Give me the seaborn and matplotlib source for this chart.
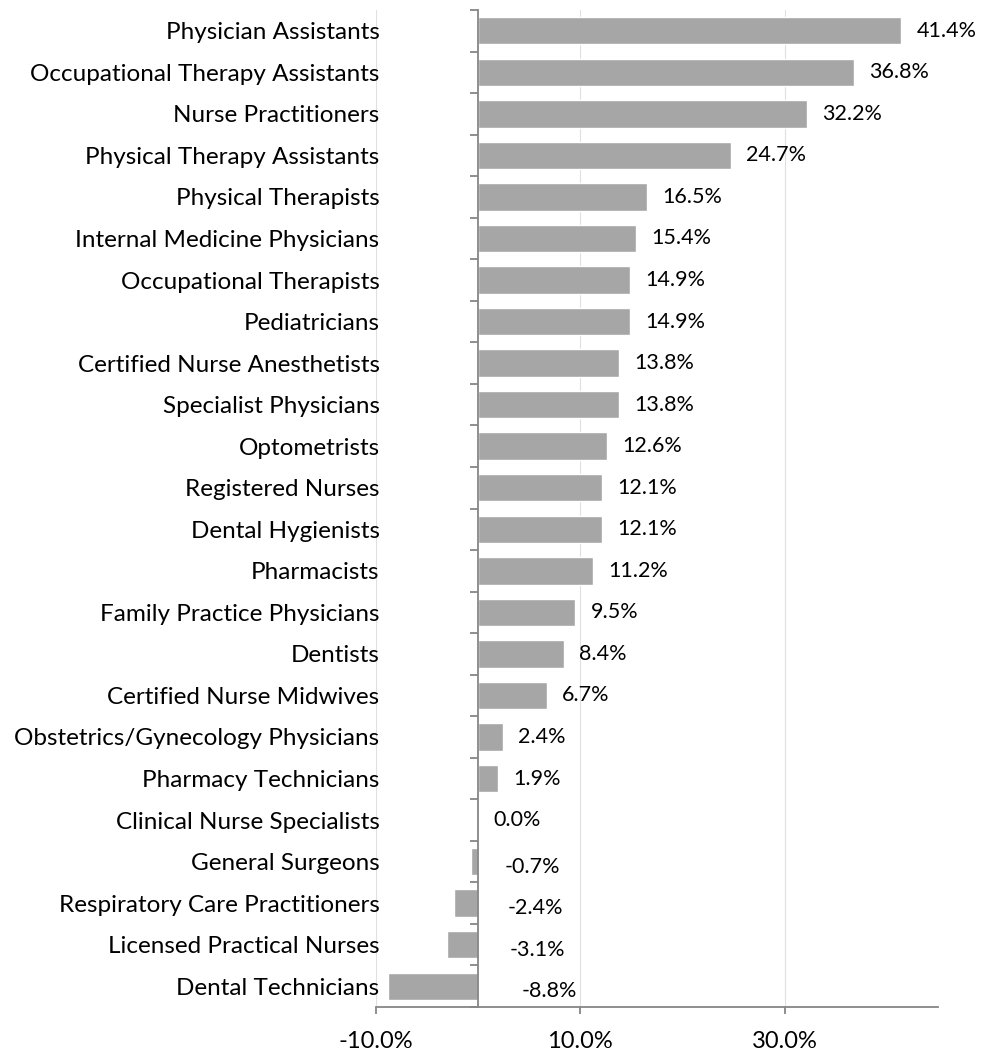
import seaborn as sns
import matplotlib.pyplot as plt
import pandas as pd
import numpy as np

# datos
profesiones = [
    'Physician Assistants', 'Occupational Therapy Assistants', 'Nurse Practitioners',
    'Physical Therapy Assistants', 'Physical Therapists', 'Internal Medicine Physicians',
    'Occupational Therapists', 'Pediatricians', 'Certified Nurse Anesthetists',
    'Specialist Physicians', 'Optometrists', 'Registered Nurses', 'Dental Hygienists',
    'Pharmacists', 'Family Practice Physicians', 'Dentists', 'Certified Nurse Midwives',
    'Obstetrics/Gynecology Physicians', 'Pharmacy Technicians', 'Clinical Nurse Specialists',
    'General Surgeons', 'Respiratory Care Practitioners', 'Licensed Practical Nurses',
    'Dental Technicians',
]
crecimiento = [41.4, 36.8, 32.2, 24.7, 16.5, 15.4, 14.9, 14.9, 13.8, 13.8, 12.6, 12.1,
               12.1, 11.2, 9.5, 8.4, 6.7, 2.4, 1.9, 0.0, -0.7, -2.4, -3.1, -8.8]
xticks = [-10, 10, 30]

df = pd.DataFrame({'profesion': profesiones, 'crecimiento': crecimiento})

sns.set_style('white')
plt.rcParams['font.family'] = ['Lato', 'DejaVu Sans']
plt.rcParams['text.color'] = 'black'
plt.rcParams['xtick.labelcolor'] = 'black'
plt.rcParams['ytick.labelcolor'] = 'black'

fig = plt.figure(figsize=(9.82, 10.54), dpi=100)
ax = fig.add_axes([0.3829, 0.0446, 0.5723, 0.9459])

sns.barplot(data=df, y='profesion', x='crecimiento', orient='h', color='#A6A6A6',
            saturation=1, width=0.66, ax=ax)

ax.set_xlim(-10, 45)
ax.set_ylim(len(df) - 0.5, -0.5)
ax.set_xticks(xticks)
ax.set_xticklabels([f'{t:.1f}%' for t in xticks], fontsize=17)
ax.xaxis.grid(True, color='#E0E0E0', linewidth=0.8)
ax.set_axisbelow(True)
ax.set_xlabel('')
ax.set_ylabel('')

# eje vertical en cero con marcas entre categorias
for s in ['top', 'right']:
    ax.spines[s].set_visible(False)
ax.spines['left'].set_position(('data', 0))
for s in ['left', 'bottom']:
    ax.spines[s].set_color('#868686')
    ax.spines[s].set_linewidth(1.3)
ax.set_yticks(np.arange(len(df) + 1) - 0.5, minor=True)
ax.tick_params(axis='y', which='minor', length=5.5, width=1.3, color='#868686', left=True)
ax.tick_params(axis='y', which='major', length=0, pad=71, labelsize=17.5)
ax.tick_params(axis='x', length=5, width=1.3, color='#868686', bottom=True, pad=12)

# etiquetas de valores (las negativas quedan a la derecha del eje, como en Excel)
for i, v in enumerate(df['crecimiento']):
    if v >= 0:
        xpos, ypos = v + 1.5, i
    else:
        xpos, ypos = 2.4 + 0.21 * abs(v), i + 0.12
    ax.text(xpos, ypos, f'{v:.1f}%', ha='left', va='center', fontsize=15.5)

plt.savefig('out.png', dpi=100)
